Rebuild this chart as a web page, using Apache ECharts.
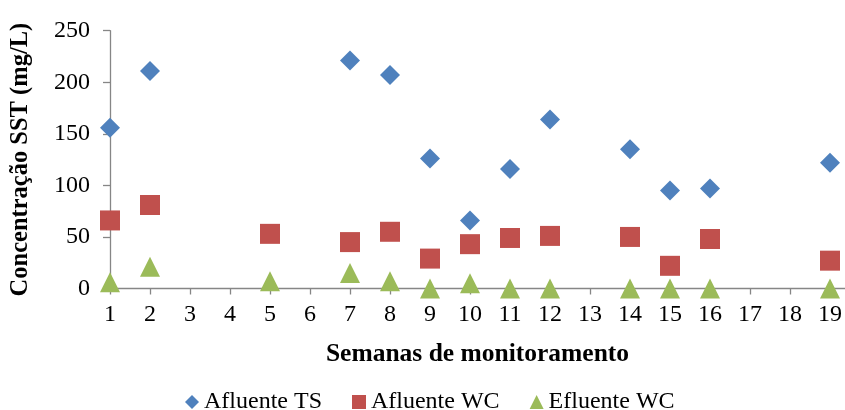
<!DOCTYPE html>
<html>
<head>
<meta charset="utf-8">
<script src="https://cdn.jsdelivr.net/npm/echarts@6/dist/echarts.min.js"></script>
<style>
  html, body { margin: 0; padding: 0; background: #fff; }
  #chart { width: 845px; height: 410px; }
</style>
</head>
<body>
<div id="chart"></div>
<script>
// Weekly SST concentration (mg/L) per sampling point
const weeks = [1, 2, 3, 4, 5, 6, 7, 8, 9, 10, 11, 12, 13, 14, 15, 16, 17, 18, 19];
const yTicks = [0, 50, 100, 150, 200, 250];

const afluenteTSWeeks = [1, 2, 7, 8, 9, 10, 11, 12, 14, 15, 16, 19];
const afluenteTS = [156, 211, 221, 207, 126, 66, 116, 164, 135, 95, 97, 122];

const afluenteWCWeeks = [1, 2, 5, 7, 8, 9, 10, 11, 12, 14, 15, 16, 19];
const afluenteWC = [66, 81, 53, 45, 55, 29, 43, 49, 51, 50, 22, 48, 27];

const efluenteWCWeeks = [1, 2, 5, 7, 8, 9, 10, 11, 12, 14, 15, 16, 19];
const efluenteWC = [6, 21, 7, 15, 7, 0, 5, 0, 0, 0, 0, 0, 0];

const pairs = (xs, ys) => xs.map((x, i) => [x, ys[i]]);

const FONT = 'Liberation Serif';
const AXIS_COLOR = '#868686';

const chart = echarts.init(document.getElementById('chart'), null, { renderer: 'canvas' });

chart.setOption({
  animation: false,
  textStyle: { fontFamily: FONT, color: '#000' },
  grid: { left: 110, right: 0, top: 30.7, bottom: 121.5, containLabel: false, outerBoundsMode: 'none' },
  legend: {
    left: 180,
    top: 385,
    itemWidth: 14,
    itemHeight: 14,
    itemGap: 30,
    textStyle: { fontFamily: FONT, fontSize: 24, color: '#000' },
    data: [
      { name: 'Afluente TS', icon: 'diamond' },
      { name: 'Afluente WC', icon: 'rect' },
      { name: 'Efluente WC', icon: 'triangle' }
    ]
  },
  xAxis: {
    type: 'value',
    min: 1,
    max: 19.375,
    interval: 1,
    name: 'Semanas de monitoramento',
    nameLocation: 'middle',
    nameGap: 53,
    nameTextStyle: { fontFamily: FONT, fontSize: 25.5, fontWeight: 'bold', color: '#000' },
    axisLine: { show: true, onZero: false, lineStyle: { color: AXIS_COLOR, width: 1.3 } },
    axisTick: { show: true, inside: false, length: 6, customValues: weeks, lineStyle: { color: AXIS_COLOR, width: 1.3 } },
    axisLabel: { customValues: weeks, margin: 14, fontFamily: FONT, fontSize: 24, color: '#000', formatter: v => String(v) },
    splitLine: { show: false }
  },
  yAxis: {
    type: 'value',
    min: 0,
    max: 250,
    interval: 50,
    name: 'Concentração SST (mg/L)',
    nameLocation: 'middle',
    nameGap: 77,
    nameRotate: 90,
    nameTextStyle: { fontFamily: FONT, fontSize: 24.5, fontWeight: 'bold', color: '#000' },
    axisLine: { show: true, lineStyle: { color: AXIS_COLOR, width: 1.3 } },
    axisTick: { show: true, inside: false, length: 7, customValues: yTicks, lineStyle: { color: AXIS_COLOR, width: 1.3 } },
    axisLabel: { customValues: yTicks, margin: 20, fontFamily: FONT, fontSize: 24, color: '#000' },
    splitLine: { show: false }
  },
  series: [
    {
      name: 'Afluente TS',
      type: 'scatter',
      symbol: 'diamond',
      symbolSize: [20, 20],
      itemStyle: { color: '#4F81BD', opacity: 1 },
      data: pairs(afluenteTSWeeks, afluenteTS)
    },
    {
      name: 'Afluente WC',
      type: 'scatter',
      symbol: 'rect',
      symbolSize: [20, 20],
      itemStyle: { color: '#C0504D', opacity: 1 },
      data: pairs(afluenteWCWeeks, afluenteWC)
    },
    {
      name: 'Efluente WC',
      type: 'scatter',
      symbol: 'triangle',
      symbolSize: [20, 20],
      itemStyle: { color: '#9BBB59', opacity: 1 },
      data: pairs(efluenteWCWeeks, efluenteWC)
    }
  ]
});
</script>
</body>
</html>
